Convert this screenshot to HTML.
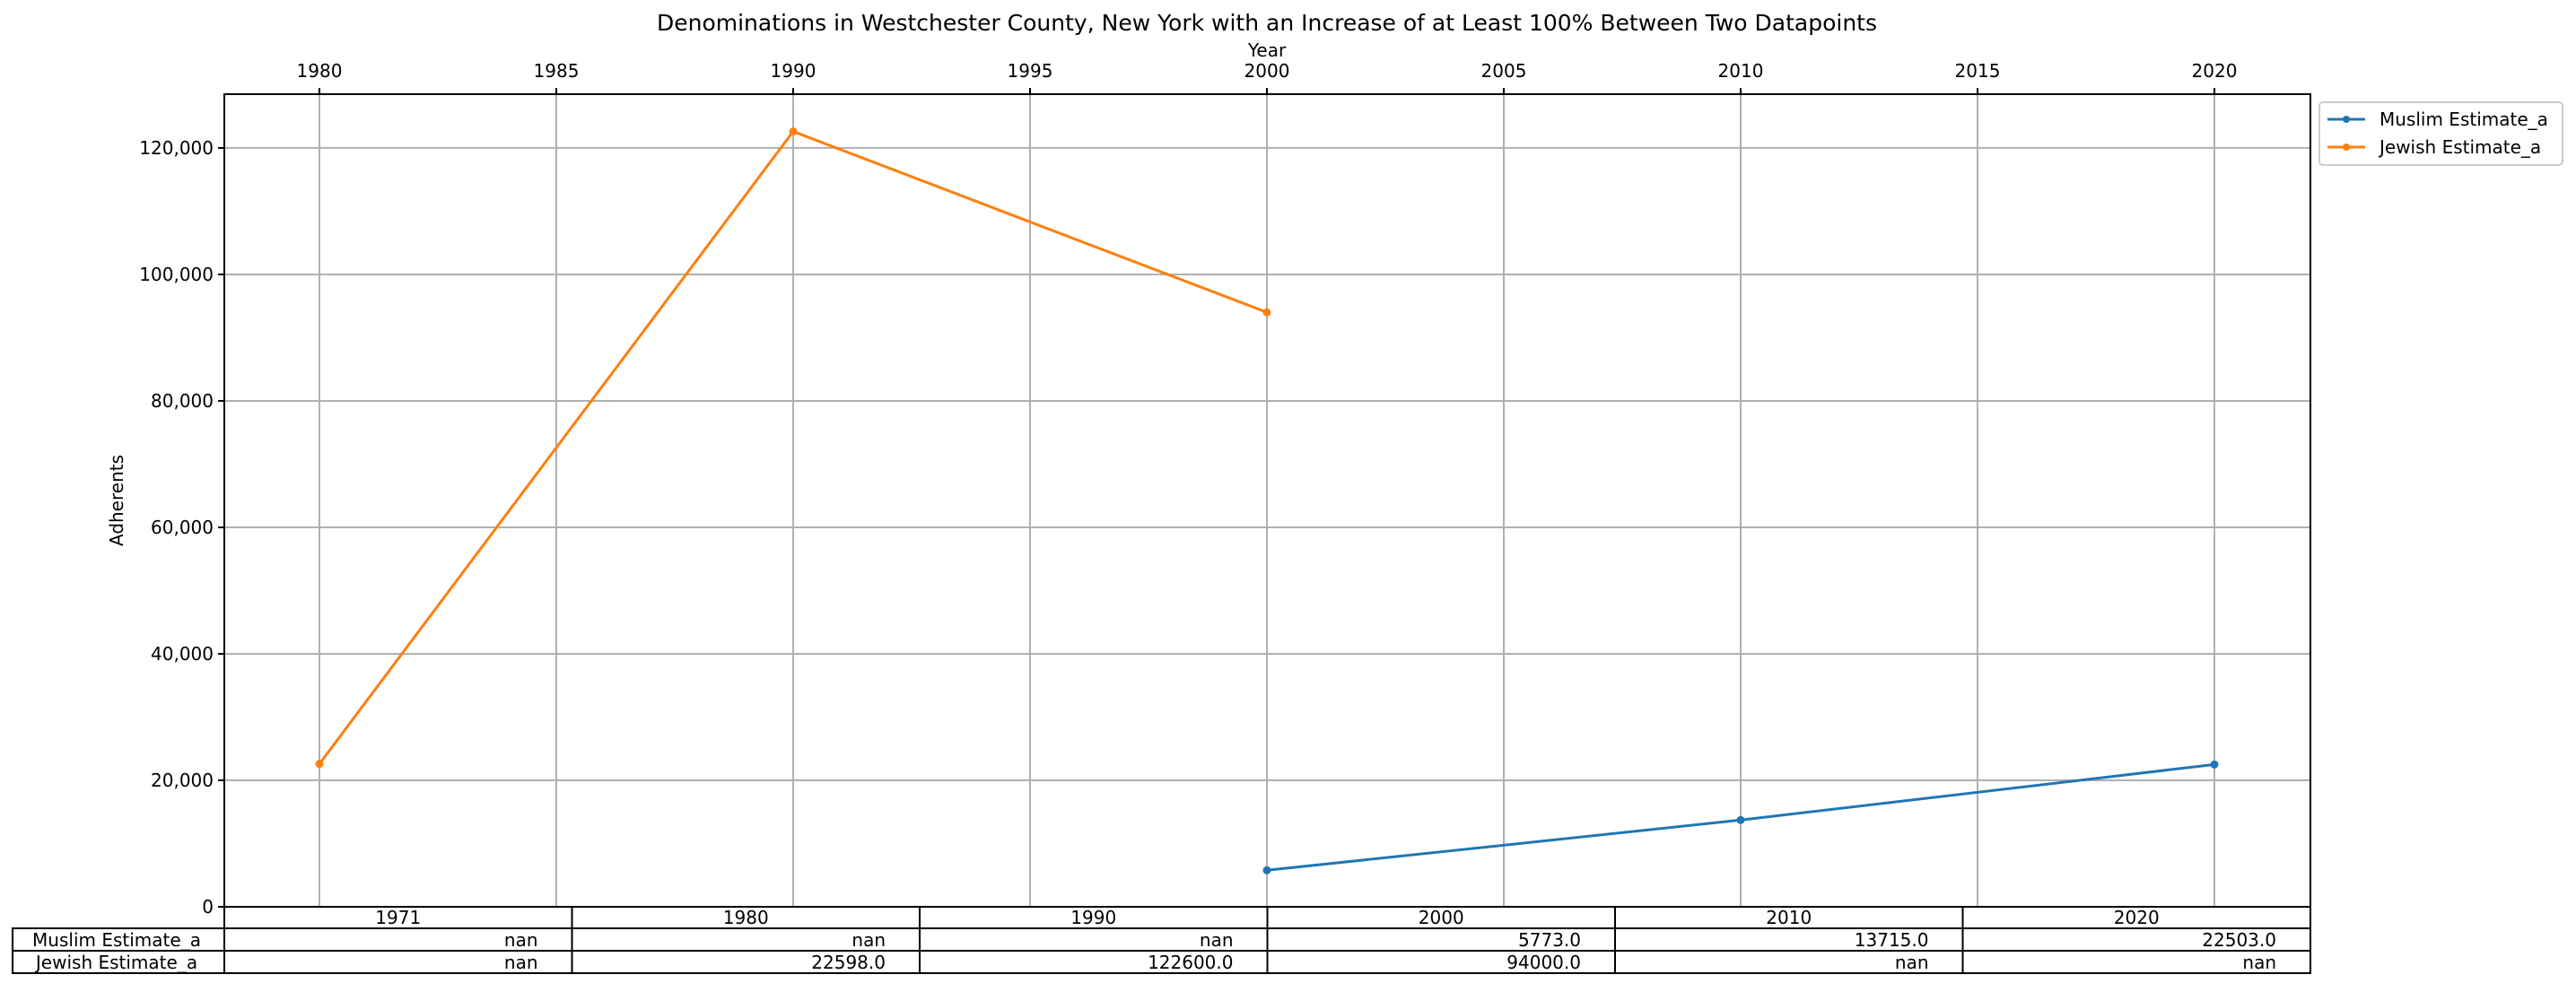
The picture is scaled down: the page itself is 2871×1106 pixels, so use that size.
<!DOCTYPE html>
<html><head><meta charset="utf-8"><style>
body{margin:0;background:#fff;}
svg text{font-family:"DejaVu Sans","Liberation Sans",sans-serif;fill:#000;}
</style></head><body>
<svg id="chart" width="2871" height="1101" xmlns="http://www.w3.org/2000/svg">
<text x="1412" y="34" font-size="25" text-anchor="middle">Denominations in Westchester County, New York with an Increase of at Least 100% Between Two Datapoints</text>
<text x="1412" y="63" font-size="20" text-anchor="middle">Year</text>
<text transform="translate(137,558) rotate(-90)" font-size="20" text-anchor="middle">Adherents</text>
<g id="grid"></g><g id="series"></g><g id="axes"></g><g id="table"></g>
<g>
<rect x="2585" y="114" width="271" height="70" rx="4" fill="#fff" stroke="#ccc" stroke-width="2"/>
<line x1="2594" y1="133" x2="2636" y2="133" stroke="#1f77b4" stroke-width="3"/><circle cx="2615" cy="133" r="4" fill="#1f77b4"/>
<text x="2652" y="140" font-size="20">Muslim Estimate_a</text>
<line x1="2594" y1="164" x2="2636" y2="164" stroke="#ff7f0e" stroke-width="3"/><circle cx="2615" cy="164" r="4" fill="#ff7f0e"/>
<text x="2652" y="171" font-size="20">Jewish Estimate_a</text>
</g>
</svg>
<script>
const years=[1971,1980,1990,2000,2010,2020];
const muslim=[null,null,null,5773,13715,22503];
const jewish=[null,22598,122600,94000,null,null];
const xTicks=[1980,1985,1990,1995,2000,2005,2010,2015,2020];
const yTicks=[0,20000,40000,60000,80000,100000,120000];
const NS="http://www.w3.org/2000/svg";
const L=250,R=2575,T=105,B=1011;
const x=y=>356+(y-1980)*52.8;
const yv=v=>B-v*(B-T)/128500;
function mk(p,tag,a,txt){const e=document.createElementNS(NS,tag);for(const k in a)e.setAttribute(k,a[k]);if(txt!=null)e.textContent=txt;p.appendChild(e);return e;}
const grid=document.getElementById('grid'),axes=document.getElementById('axes'),ser=document.getElementById('series'),tb=document.getElementById('table');
xTicks.forEach(t=>{
 const g=mk(grid,'line',{x1:x(t),x2:x(t),y1:T,y2:B,stroke:'#b0b0b0','stroke-width':2});
 
 
 mk(axes,'line',{x1:x(t),x2:x(t),y1:T-7,y2:T,stroke:'#000','stroke-width':2});
 const tx=mk(axes,'text',{x:x(t),y:T-19,'font-size':20,'text-anchor':'middle'},t);
 
 
});
yTicks.forEach(t=>{
 const g=mk(grid,'line',{x1:L,x2:R,y1:yv(t),y2:yv(t),stroke:'#b0b0b0','stroke-width':2});
 
 
 mk(axes,'line',{x1:L-7,x2:L,y1:yv(t),y2:yv(t),stroke:'#000','stroke-width':2});
 const tx=mk(axes,'text',{x:L-12,y:yv(t)+7,'font-size':20,'text-anchor':'end'},t.toLocaleString('en-US'));
 
 
});
const frame=mk(axes,'rect',{x:L,y:T,width:R-L,height:B-T,fill:'none',stroke:'#000','stroke-width':2});


[[muslim,'#1f77b4','muslim'],[jewish,'#ff7f0e','jewish']].forEach(([d,c,n])=>{
 const pts=[];d.forEach((v,i)=>{if(v!=null)pts.push([x(years[i]),yv(v)]);});
 const pl=mk(ser,'polyline',{points:pts.map(p=>p.join(',')).join(' '),fill:'none',stroke:c,'stroke-width':3});
 
 
 pts.forEach(p=>{const m=mk(ser,'circle',{cx:p[0],cy:p[1],r:4.5,fill:c});
  
  });
});
const cw=(R-L)/6;
mk(tb,'rect',{x:L,y:B,width:R-L,height:1085-B,fill:'none',stroke:'#000','stroke-width':2});
mk(tb,'rect',{x:14,y:1035,width:R-14,height:50,fill:'none',stroke:'#000','stroke-width':2});
mk(tb,'line',{x1:14,x2:R,y1:1060,y2:1060,stroke:'#000','stroke-width':2});
mk(tb,'line',{x1:L,x2:R,y1:1035,y2:1035,stroke:'#000','stroke-width':2});
for(let i=1;i<6;i++)mk(tb,'line',{x1:L+i*cw,x2:L+i*cw,y1:B,y2:1085,stroke:'#000','stroke-width':2});
years.forEach((yr,i)=>{
 const h=mk(tb,'text',{x:L+i*cw+cw/2,y:1030,'font-size':20,'text-anchor':'middle'},yr);
 
 
});
[['Muslim Estimate_a',muslim,1055],['Jewish Estimate_a',jewish,1080]].forEach(([lab,d,yy])=>{
 const t=mk(tb,'text',{x:130,y:yy,'font-size':20,'text-anchor':'middle'},lab);
 
 
 d.forEach((v,i)=>{
  const c=mk(tb,'text',{x:L+(i+1)*cw-38,y:yy,'font-size':20,'text-anchor':'end'},v==null?'nan':v.toFixed(1));
  
  
 });
});
</script>
</body></html>
